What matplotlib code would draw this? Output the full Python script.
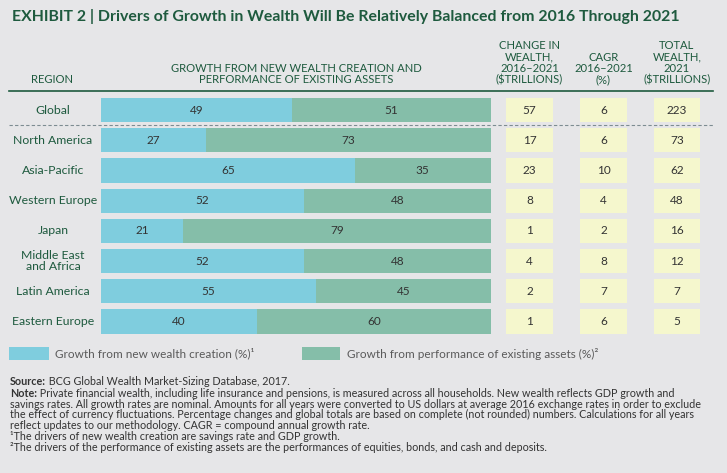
import matplotlib
matplotlib.use("Agg")
import matplotlib.pyplot as plt
from matplotlib import font_manager
from matplotlib.transforms import blended_transform_factory

# data
regions = ["Global", "North America", "Asia-Pacific", "Western Europe", "Japan",
           "Middle East\nand Africa", "Latin America", "Eastern Europe"]
new_wealth = [49, 27, 65, 52, 21, 52, 55, 40]
existing_assets = [51, 73, 35, 48, 79, 48, 45, 60]
change_wealth = [57, 17, 23, 8, 1, 4, 2, 1]
cagr = [6, 6, 10, 4, 2, 8, 7, 6]
total_wealth = [223, 73, 62, 48, 16, 12, 7, 5]

footnotes = [
    ("Source:", " BCG Global Wealth Market-Sizing Database, 2017."),
    ("Note:", " Private financial wealth, including life insurance and pensions, is measured across all households. New wealth reflects GDP growth and"),
    ("", "savings rates. All growth rates are nominal. Amounts for all years were converted to US dollars at average 2016 exchange rates in order to exclude"),
    ("", "the effect of currency fluctuations. Percentage changes and global totals are based on complete (not rounded) numbers. Calculations for all years"),
    ("", "reflect updates to our methodology. CAGR = compound annual growth rate."),
    ("", "\u00b9The drivers of new wealth creation are savings rate and GDP growth."),
    ("", "\u00b2The drivers of the performance of existing assets are the performances of equities, bonds, and cash and deposits."),
]

BG = "#e6e6e8"
BLUE = "#7fcdde"
GREEN = "#85bea9"
YELLOW = "#f5f7cd"
DKGREEN = "#1e5a3e"
TXT = "#333333"

def has_font(name):
    try:
        font_manager.findfont(name, fallback_to_default=False)
        return True
    except Exception:
        return False

narrow = "Liberation Sans Narrow" if has_font("Liberation Sans Narrow") else "Lato"
plt.rcParams["font.family"] = [narrow, "DejaVu Sans"]

W, H = 727, 473
fig = plt.figure(figsize=(W / 100, H / 100), dpi=100)
fig.patch.set_facecolor(BG)

def px_axes(x0, y0, x1, y1):
    a = fig.add_axes([x0 / W, 1 - y1 / H, (x1 - x0) / W, (y1 - y0) / H])
    a.set_axis_off()
    a.patch.set_alpha(0)
    return a

# overlay in pixel coordinates for layout text/lines
ax = px_axes(0, 0, W, H)
ax.set_xlim(0, W)
ax.set_ylim(H, 0)

n = len(regions)
rows = list(range(n))
top, bot = 94.9, 336.6

ax_bar = px_axes(101, top, 491, bot)
ax_bar.set_xlim(0, 100)
ax_bar.set_ylim(n - 0.5, -0.5)
ax_bar.barh(rows, new_wealth, height=0.8, color=BLUE)
ax_bar.barh(rows, existing_assets, left=new_wealth, height=0.8, color=GREEN)
for i in rows:
    ax_bar.text(new_wealth[i] / 2, i, str(new_wealth[i]), ha="center", va="center",
                fontsize=8.5, color=TXT)
    ax_bar.text(new_wealth[i] + existing_assets[i] / 2, i, str(existing_assets[i]),
                ha="center", va="center", fontsize=8.5, color=TXT)

# region labels
lab_tr = blended_transform_factory(ax.transData, ax_bar.transData)
for i, r in enumerate(regions):
    ax_bar.text(53, i, r, transform=lab_tr, ha="center", va="center",
                fontsize=8.8, color=DKGREEN, linespacing=0.95)

# table columns
cols = [(506, 553, change_wealth), (580, 627, cagr), (654, 700, total_wealth)]
for x0, x1, vals in cols:
    axc = px_axes(x0, top, x1, bot)
    axc.set_xlim(0, 1)
    axc.set_ylim(n - 0.5, -0.5)
    axc.barh(rows, [1] * n, height=0.8, color=YELLOW)
    for i, v in enumerate(vals):
        axc.text(0.5, i, str(v), ha="center", va="center", fontsize=8.5, color=TXT)

# title
ax.text(12, 17, "EXHIBIT 2 | Drivers of Growth in Wealth Will Be Relatively Balanced from 2016 Through 2021",
        ha="left", va="center", fontsize=11.4, fontweight="bold", color=DKGREEN,
        family=["Lato", "DejaVu Sans"])

# headers
hdr = dict(ha="center", va="bottom", fontsize=8.1, color=DKGREEN, linespacing=1.02)
ax.text(52, 85, "REGION", **hdr)
ax.text(296, 85, "GROWTH FROM NEW WEALTH CREATION AND\nPERFORMANCE OF EXISTING ASSETS", **hdr)
ax.text(529.5, 85, "CHANGE IN\nWEALTH,\n2016\u20132021\n($TRILLIONS)", **hdr)
ax.text(603.5, 85, "CAGR\n2016\u20132021\n(%)", **hdr)
ax.text(677, 85, "TOTAL\nWEALTH,\n2021\n($TRILLIONS)", **hdr)

ax.plot([9, 713], [91, 91], color=DKGREEN, lw=1.2)
ax.plot([9, 713], [125, 125], color="#7d8c92", lw=0.8, dashes=(3, 2))

# legend
ax.add_patch(plt.Rectangle((9, 347), 40, 12.5, color=BLUE, lw=0))
ax.text(55, 353.5, "Growth from new wealth creation (%)\u00b9", ha="left", va="center",
        fontsize=8.5, color="#5a5a5a")
ax.add_patch(plt.Rectangle((302, 347), 38, 12.5, color=GREEN, lw=0))
ax.text(347, 353.5, "Growth from performance of existing assets (%)\u00b2", ha="left", va="center",
        fontsize=8.5, color="#5a5a5a")

# footnotes
fy = [381, 393, 404, 414.5, 425, 436, 447]
for k, (bold, rest) in enumerate(footnotes):
    y = fy[k]
    if bold:
        t = ax.text(10, y, bold, ha="left", va="center", fontsize=7.75,
                    fontweight="bold", color=TXT)
        ax.annotate(rest, xy=(1, 0.5), xycoords=t, ha="left", va="center",
                    fontsize=7.75, color=TXT)
    else:
        ax.text(10, y, rest, ha="left", va="center", fontsize=7.75, color=TXT)

fig.savefig("out.png", dpi=100, facecolor=BG)
